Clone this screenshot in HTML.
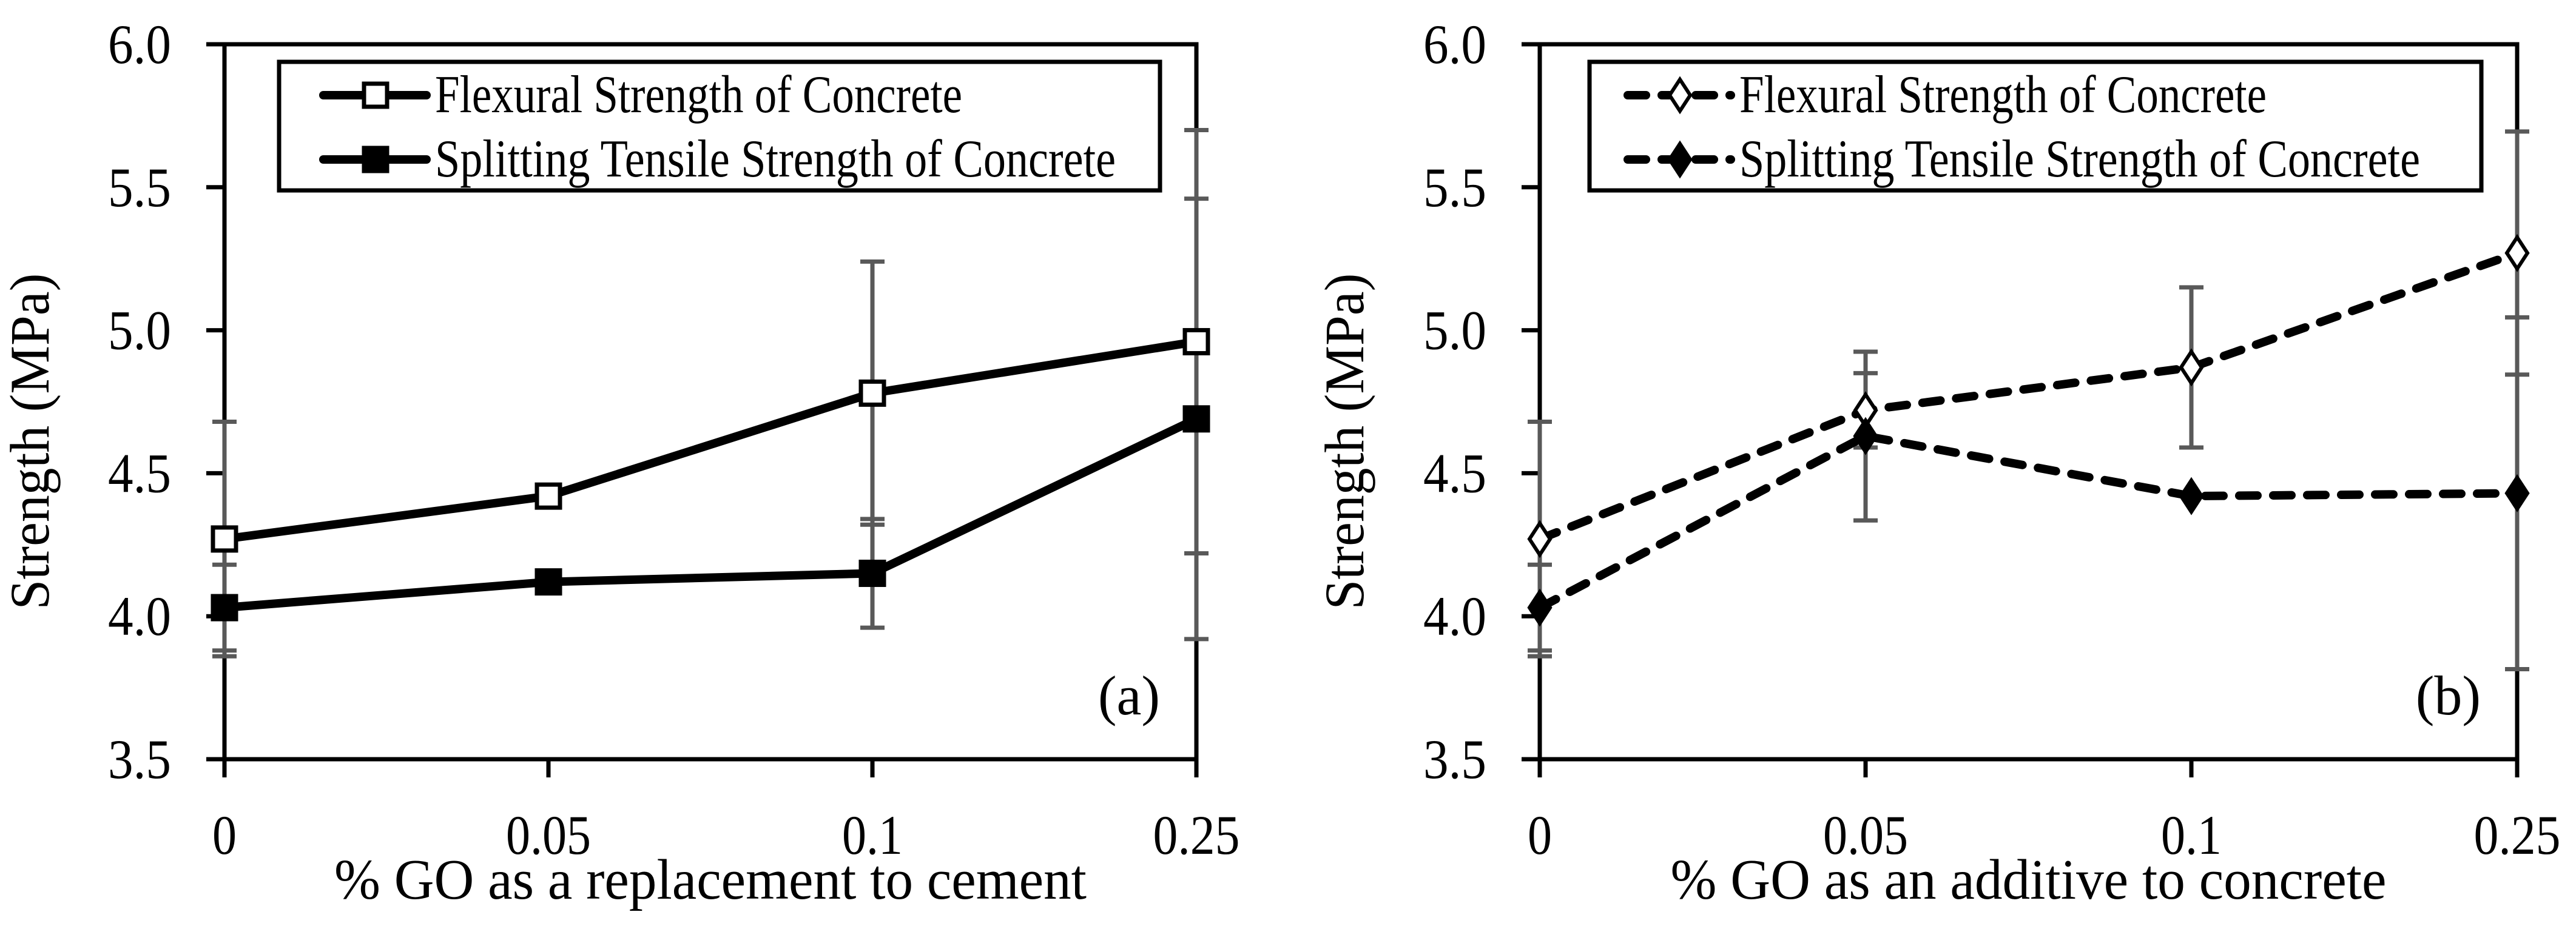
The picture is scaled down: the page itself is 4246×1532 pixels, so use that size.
<!DOCTYPE html>
<html><head><meta charset="utf-8"><style>
html,body{margin:0;padding:0;background:#fff;}
svg{display:block;}
text{font-family:"Liberation Serif",serif;fill:#000;}
</style></head><body>
<svg id="chart" width="4246" height="1532" viewBox="0 0 4246 1532" xmlns="http://www.w3.org/2000/svg"></svg>
<script>
const categories = ["0","0.05","0.1","0.25"];
const yTicks = [3.5,4.0,4.5,5.0,5.5,6.0];
const aFlex = [4.27,4.42,4.78,4.96];
const aSplit = [4.03,4.12,4.15,4.69];
const aFlexErr = [0.41,0,0.46,0.74];
const aSplitErr = [0.15,0,0.19,0.77];
const bFlex = [4.27,4.72,4.87,5.27];
const bSplit = [4.03,4.63,4.42,4.43];
const bFlexErr = [0.41,0.13,0.28,0.425];
const bSplitErr = [0.15,0.295,0,0.615];
const legendLabels = ["Flexural Strength of Concrete","Splitting Tensile Strength of Concrete"];

const NS="http://www.w3.org/2000/svg";
const svg=document.getElementById('chart');
function el(tag,attrs,parent){const e=document.createElementNS(NS,tag);for(const k in attrs)e.setAttribute(k,attrs[k]);(parent||svg).appendChild(e);return e;}
const xLabW={"0":40,"0.05":140,"0.1":100,"0.25":143};

function panel(cfg){
  const g=el('g',{});
  
  
  const top=73,bot=1252,x0=cfg.x0,x1=cfg.x1;
  const yS=v=>bot-(v-3.5)/(6-3.5)*(bot-top);
  const xS=i=>x0+i*(x1-x0)/(categories.length-1);
  const fr=el('path',{d:`M${x0},${top} H${x1} V${bot} M${x0},${top} V${bot+30} M${x0-30},${bot} H${x1}`,stroke:'#000','stroke-width':7,fill:'none'},g);
  
  
  categories.forEach((c,i)=>{
    const tk=el('line',{x1:xS(i),x2:xS(i),y1:bot,y2:bot+30,stroke:'#000','stroke-width':7},g);
    
    
    const t=el('text',{x:xS(i),y:1408,'font-size':92,'text-anchor':'middle',textLength:xLabW[c]||120,lengthAdjust:'spacingAndGlyphs'},g);
    t.textContent=c;
    
    
  });
  yTicks.forEach(v=>{
    const tk=el('line',{x1:x0-30,x2:x0,y1:yS(v),y2:yS(v),stroke:'#000','stroke-width':7},g);
    
    
    const t=el('text',{x:x0-88,y:yS(v)+31,'font-size':92,'text-anchor':'end',textLength:104,lengthAdjust:'spacingAndGlyphs'},g);
    t.textContent=v.toFixed(1);
    
    
  });
  const yt=el('text',{x:0,y:0,'font-size':92,'text-anchor':'middle',transform:`translate(${cfg.ytx},728) rotate(-90)`,textLength:555,lengthAdjust:'spacingAndGlyphs'},g);
  yt.textContent='Strength (MPa)';
  
  
  const xt=el('text',{x:(x0+x1)/2,y:1482,'font-size':94,'text-anchor':'middle',textLength:cfg.xtLen,lengthAdjust:'spacingAndGlyphs'},g);
  xt.textContent=cfg.xtitle;
  
  
  const pl=el('text',{x:x1-60,y:1178,'font-size':92,'text-anchor':'end'},g);
  pl.textContent=cfg.label;
  
  
  [[cfg.flex,cfg.flexErr],[cfg.split,cfg.splitErr]].forEach(([vals,errs])=>{
    vals.forEach((v,i)=>{
      if(!errs[i])return;
      const x=xS(i),a=yS(v+errs[i]),b=yS(v-errs[i]);
      const eb=el('path',{d:`M${x},${a} V${b} M${x-20},${a} H${x+20} M${x-20},${b} H${x+20}`,stroke:'#595959','stroke-width':7,fill:'none'},g);
      
      
    });
  });
  const dash=cfg.dashed?{'stroke-dasharray':'30 26','stroke-linecap':'round'}:{'stroke-linejoin':'round'};
  function marker(x,y,filled,name,par){
    let m;
    if(cfg.dashed){
      m=el('path',{d:`M${x},${y-26} L${x+17},${y} L${x},${y+26} L${x-17},${y} Z`,fill:filled?'#000':'#fff',stroke:'#000','stroke-width':6},par||g);
    }else{
      m=el('rect',{x:x-19,y:y-19,width:38,height:38,fill:filled?'#000':'#fff',stroke:'#000','stroke-width':7},par||g);
    }
    
    
  }
  function series(vals,filled,name){
    const ln=el('polyline',Object.assign({points:vals.map((v,i)=>xS(i)+','+yS(v)).join(' '),stroke:'#000','stroke-width':14,fill:'none'},dash),g);
    
    
    vals.forEach((v,i)=>marker(xS(i),yS(v),filled,name+'-point'));
  }
  series(cfg.flex,false,'flexural');
  series(cfg.split,true,'splitting');
  const lg=el('g',{},g);
  
  
  const lb=el('rect',{x:cfg.lx0,y:102,width:cfg.lx1-cfg.lx0,height:212,fill:'#fff',stroke:'#000','stroke-width':7},lg);
  
  
  legendLabels.forEach((lab,k)=>{
    const y=[157,263][k];
    const le=el('line',Object.assign({x1:cfg.lineX0,x2:cfg.lineX0+170,y1:y,y2:y,stroke:'#000','stroke-width':14},cfg.dashed?{'stroke-dasharray':'30 26','stroke-linecap':'round'}:{'stroke-linecap':'round'}),lg);
    
    
    marker(cfg.lineX0+86,y,k===1,'legend-marker',lg);
    const t=el('text',{x:cfg.lineX0+184,y:y+28,'font-size':88,textLength:[869,1122][k],lengthAdjust:'spacingAndGlyphs'},lg);
    t.textContent=lab;
    
    
  });
}
panel({name:'panel-a',x0:370,x1:1972,ytx:80,xtitle:'% GO as a replacement to cement',xtLen:1240,label:'(a)',
  flex:aFlex,split:aSplit,flexErr:aFlexErr,splitErr:aSplitErr,dashed:false,lx0:460,lx1:1912,lineX0:533});
panel({name:'panel-b',x0:2538,x1:4149,ytx:2247,xtitle:'% GO as an additive to concrete',xtLen:1180,label:'(b)',
  flex:bFlex,split:bSplit,flexErr:bFlexErr,splitErr:bSplitErr,dashed:true,lx0:2620,lx1:4090,lineX0:2683});
</script>
</body></html>
